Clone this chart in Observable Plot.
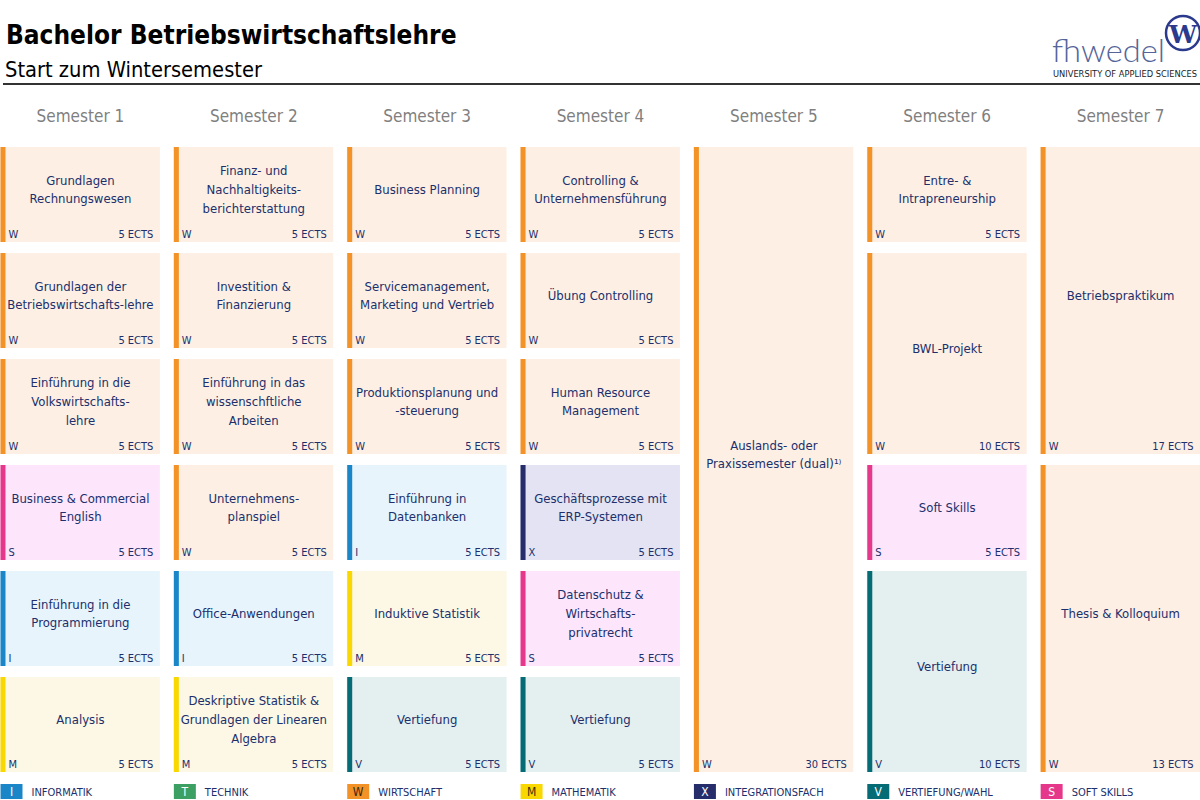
<!DOCTYPE html>
<html>
<head>
<meta charset="utf-8">
<script src="https://cdn.jsdelivr.net/npm/d3@7"></script>
<script src="https://cdn.jsdelivr.net/npm/@observablehq/plot@0.6"></script>
<style>
  html, body { margin: 0; padding: 0; background: #fff; }
  body { width: 1200px; height: 800px; overflow: hidden; font-family: 'DejaVu Sans Condensed', 'DejaVu Sans', sans-serif; }
  #header { position: relative; height: 88px; }
  #title { position: absolute; left: 6px; top: 22px; font-weight: bold; font-size: 26px; line-height: 26px; color: #000; white-space: nowrap; }
  #subtitle { position: absolute; left: 5px; top: 59px; font-size: 21.7px; line-height: 22px; color: #000; white-space: nowrap; }
  #rule { position: absolute; left: 3px; right: 0; top: 83px; height: 2px; background: #333; }
  #logo { position: absolute; left: 1040px; top: 0; }
  #chart svg, #legend svg { display: block; }
</style>
</head>
<body>
<div id="header">
  <svg id="logo" width="160" height="82" viewBox="0 0 160 82">
    <text x="12" y="62" textLength="113" lengthAdjust="spacingAndGlyphs" font-family="Lato, 'Open Sans', sans-serif" font-weight="300" font-size="31" fill="#55659a">fhwedel</text>
    <circle cx="143" cy="33" r="17" fill="#fff" stroke="#2b3a8c" stroke-width="2.5"></circle>
    <text x="143" y="43" text-anchor="middle" font-family="'DejaVu Serif', serif" font-weight="bold" font-size="25" fill="#2b3a8c">W</text>
    <text x="13" y="77" textLength="144" lengthAdjust="spacingAndGlyphs" font-family="'Liberation Sans Narrow', 'DejaVu Sans Condensed', sans-serif" font-size="9.5" fill="#222">UNIVERSITY OF APPLIED SCIENCES</text>
  </svg>
  <div id="title">Bachelor Betriebswirtschaftslehre</div>
  <div id="subtitle">Start zum Wintersemester</div>
  <div id="rule"></div>
</div>
<div id="chart"></div>
<div id="legend"></div>
<script>
// ---------- data ----------
const semesters = ["Semester 1", "Semester 2", "Semester 3", "Semester 4", "Semester 5", "Semester 6", "Semester 7"];

const courseTitles = [
  "Grundlagen\nRechnungswesen",
  "Grundlagen der\nBetriebswirtschafts-lehre",
  "Einführung in die\nVolkswirtschafts-\nlehre",
  "Business & Commercial\nEnglish",
  "Einführung in die\nProgrammierung",
  "Analysis",
  "Finanz- und\nNachhaltigkeits-\nberichterstattung",
  "Investition &\nFinanzierung",
  "Einführung in das\nwissenschftliche\nArbeiten",
  "Unternehmens-\nplanspiel",
  "Office-Anwendungen",
  "Deskriptive Statistik &\nGrundlagen der Linearen\nAlgebra",
  "Business Planning",
  "Servicemanagement,\nMarketing und Vertrieb",
  "Produktionsplanung und\n-steuerung",
  "Einführung in\nDatenbanken",
  "Induktive Statistik",
  "Vertiefung",
  "Controlling &\nUnternehmensführung",
  "Übung Controlling",
  "Human Resource\nManagement",
  "Geschäftsprozesse mit\nERP-Systemen",
  "Datenschutz &\nWirtschafts-\nprivatrecht",
  "Vertiefung",
  "Auslands- oder\nPraxissemester (dual)¹⁾",
  "Entre- &\nIntrapreneurship",
  "BWL-Projekt",
  "Soft Skills",
  "Vertiefung",
  "Betriebspraktikum",
  "Thesis & Kolloquium"
];
const courseSemester = [1,1,1,1,1,1, 2,2,2,2,2,2, 3,3,3,3,3,3, 4,4,4,4,4,4, 5, 6,6,6,6, 7,7];
const courseRow      = [1,2,3,4,5,6, 1,2,3,4,5,6, 1,2,3,4,5,6, 1,2,3,4,5,6, 1, 1,2,4,5, 1,4];
const courseSpan     = [1,1,1,1,1,1, 1,1,1,1,1,1, 1,1,1,1,1,1, 1,1,1,1,1,1, 6, 1,2,1,2, 3,3];
const courseCategory = ["W","W","W","S","I","M", "W","W","W","W","I","M", "W","W","W","I","M","V", "W","W","W","X","S","V", "W", "W","W","S","V", "W","W"];
const courseEcts     = [5,5,5,5,5,5, 5,5,5,5,5,5, 5,5,5,5,5,5, 5,5,5,5,5,5, 30, 5,10,5,10, 17,13];

const categoryCodes  = ["I", "T", "W", "M", "X", "V", "S"];
const categoryLabels = ["INFORMATIK", "TECHNIK", "WIRTSCHAFT", "MATHEMATIK", "INTEGRATIONSFACH", "VERTIEFUNG/WAHL", "SOFT SKILLS"];

// ---------- styles ----------
const barColor = {I: "#1a86c8", T: "#3c9f64", W: "#f29227", M: "#f8d800", X: "#252e6b", V: "#056c75", S: "#e6388b"};
const bgColor  = {I: "#e7f4fc", T: "#e6f3ea", W: "#fdefe4", M: "#fcf8e5", X: "#e3e3f3", V: "#e4eff0", S: "#fde6fb"};
const legendLetterColor = {I: "#fff", T: "#fff", W: "#3a2a10", M: "#3a3000", X: "#fff", V: "#fff", S: "#fff"};
const ink = "#202f6c";
const font = "'DejaVu Sans Condensed', 'DejaVu Sans', sans-serif";

const colW = 160 / 173.5;   // cell width in column units
const rowH = 95 / 106;      // cell height in row units

const courses = courseTitles.map((t, i) => ({
  title: t,
  sem: courseSemester[i] - 1,
  row: courseRow[i] - 1,
  span: courseSpan[i],
  cat: courseCategory[i],
  ects: courseEcts[i]
}));
const y1 = d => d.row;
const y2 = d => d.row + d.span - 1 + rowH;

const chart = Plot.plot({
  width: 1200,
  height: 690,
  marginTop: 59,
  marginBottom: 6,
  marginLeft: 0,
  marginRight: 0,
  style: {fontFamily: font, background: "#fff"},
  x: {domain: [0, 6 + colW], axis: null},
  y: {domain: [0, 5 + rowH], reverse: true, axis: null},
  color: {type: "identity"},
  marks: [
    Plot.text(semesters, {x: (d, i) => i + colW / 2, y: 0, dy: -31, text: d => d, fontSize: 17, fill: "#7f7f7f", fontFamily: font}),
    Plot.rect(courses, {x1: d => d.sem, x2: d => d.sem + colW, y1, y2, fill: d => bgColor[d.cat]}),
    Plot.ruleX(courses, {x: d => d.sem, y1, y2, stroke: d => barColor[d.cat], strokeWidth: 5, dx: 2.5}),
    Plot.text(courses, {x: d => d.sem + colW / 2, y: d => (y1(d) + y2(d)) / 2, dy: -7, text: d => d.title, fontSize: 13, lineHeight: 1.45, fill: ink, fontFamily: font}),
    Plot.text(courses, {x: d => d.sem, y: y2, dx: 8, dy: -8, text: d => d.cat, textAnchor: "start", fontSize: 11, fill: ink, fontFamily: font}),
    Plot.text(courses, {x: d => d.sem + colW, y: y2, dx: -7, dy: -8, text: d => d.ects + " ECTS", textAnchor: "end", fontSize: 11, fill: ink, fontFamily: font})
  ]
});
document.getElementById("chart").appendChild(chart);

const legend = Plot.plot({
  width: 1200,
  height: 22,
  marginTop: 6,
  marginBottom: 1,
  marginLeft: 0,
  marginRight: 0,
  style: {fontFamily: font, background: "#fff"},
  x: {domain: [0, 6 + colW], axis: null},
  color: {type: "identity"},
  marks: [
    Plot.ruleX(categoryCodes, {x: (d, i) => i, stroke: d => barColor[d], strokeWidth: 22, dx: 11}),
    Plot.text(categoryCodes, {x: (d, i) => i, dx: 11, text: d => d, fill: d => legendLetterColor[d], fontSize: 12, fontFamily: font}),
    Plot.text(categoryCodes, {x: (d, i) => i, dx: 31, text: (d, i) => categoryLabels[i], textAnchor: "start", fill: ink, fontSize: 11, fontFamily: font})
  ]
});
document.getElementById("legend").appendChild(legend);
</script>
</body>
</html>
